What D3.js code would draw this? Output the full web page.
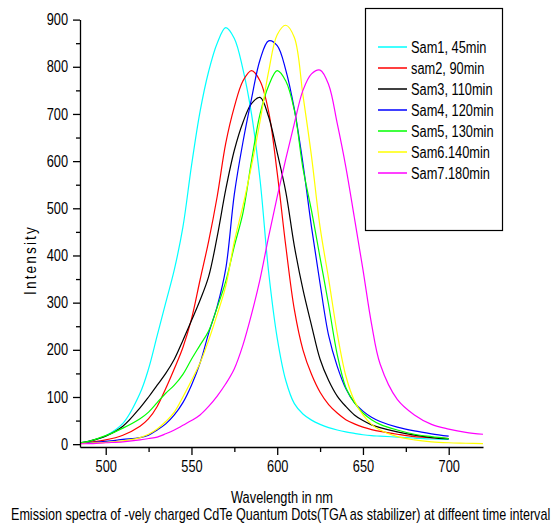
<!DOCTYPE html>
<html>
<head>
<meta charset="utf-8">
<script src="https://cdn.jsdelivr.net/npm/d3@7"></script>
<style>
  body { margin: 0; background: #fff; }
  svg { display: block; }
  text { font-family: "Liberation Sans", Arial, sans-serif; fill: #000; }
</style>
</head>
<body>
<svg width="560" height="525"></svg>
<script>
// wavelengths (nm) shared by all spectra
const wavelength = [485, 490, 500, 510, 520, 525, 530, 535, 540, 545, 550, 555, 560, 565, 570, 575, 580, 585, 590, 595,
  600, 605, 610, 615, 620, 625, 630, 635, 640, 645, 650, 655, 660, 670, 680, 690, 700, 710, 720]

const sam1 = [3, 6, 18, 44, 108, 160, 230, 300, 370, 460, 590, 705, 790, 850, 883, 860, 795, 700, 560, 365,
  225, 135, 86, 64, 51, 42, 35, 30, 26, 23, 20, 18, 17, 15, 13, 11, 10, null, null]
const sam2 = [2, 4, 9, 19, 38, 54, 80, 118, 160, 205, 265, 348, 430, 525, 638, 715, 770, 792, 770, 705,
  575, 420, 285, 200, 148, 110, 84, 66, 52, 43, 36, 31, 27, 21, 16, 14, 12, null, null]
const sam3 = [3, 6, 17, 38, 77, 100, 125, 150, 180, 220, 262, 305, 355, 440, 540, 623, 682, 722, 735, 694,
  618, 535, 420, 328, 252, 180, 135, 102, 80, 62, 50, 41, 35, 26, 19, 14, 11, null, null]
const sam4 = [2, 3, 6, 10, 14, 19, 30, 43, 62, 88, 125, 172, 235, 292, 372, 530, 640, 732, 815, 855,
  845, 793, 710, 595, 460, 340, 230, 165, 118, 88, 70, 57, 48, 36, 28, 22, 17, null, null]
const sam5 = [3, 6, 18, 34, 54, 68, 88, 108, 125, 148, 180, 210, 240, 290, 345, 420, 490, 600, 700, 760,
  792, 770, 708, 585, 495, 395, 295, 190, 120, 88, 66, 52, 42, 30, 21, 16, 12, null, null]
const sam6 = [1, 2, 4, 7, 14, 21, 32, 48, 68, 100, 135, 172, 220, 275, 335, 430, 505, 590, 685, 790,
  868, 888, 862, 740, 610, 460, 350, 235, 145, 92, 62, 42, 30, 16, 9, 5, 3, 2, 1]
const sam7 = [1, 1, 3, 5, 9, 12, 15, 22, 30, 40, 50, 62, 80, 102, 128, 160, 210, 275, 350, 440,
  525, 605, 680, 750, 785, 793, 762, 680, 588, 480, 370, 255, 170, 95, 62, 42, 32, 25, 21]

const seriesNames = ['Sam1, 45min', 'sam2, 90min', 'Sam3, 110min', 'Sam4, 120min', 'Sam5, 130min', 'Sam6.140min', 'Sam7.180min']
const seriesValues = [sam1, sam2, sam3, sam4, sam5, sam6, sam7]
const seriesColors = ['#00ffff', '#ff0000', '#000000', '#0000ff', '#00ff00', '#ffff00', '#ff00ff']

const yMajorTicks = d3.range(0, 901, 100)
const yMinorTicks = d3.range(50, 900, 100)
const xMajorTicks = [500, 550, 600, 650, 700]
const xMinorTicks = [525, 575, 625, 675]

const svg = d3.select('svg')

const x = d3.scaleLinear().domain([485, 720]).range([80, 483])
const y = d3.scaleLinear().domain([-6, 900]).range([447, 19.6])

// the original lettering is narrow, squeeze text horizontally
function squeeze(sel, k) {
  sel.each(function() {
    let w = this.getComputedTextLength()
    d3.select(this).attr('textLength', w * k).attr('lengthAdjust', 'spacingAndGlyphs')
  })
}

// curves
const line = d3.line()
  .defined(function(d) { return d[1] != null })
  .x(function(d) { return x(d[0]) })
  .y(function(d) { return y(d[1]) })
  .curve(d3.curveCatmullRom.alpha(0.5))

seriesValues.forEach(function(vals, i) {
  const pts = wavelength.map(function(w, j) { return [w, vals[j]] })
  svg.append('path')
    .attr('d', line(pts))
    .attr('fill', 'none')
    .attr('stroke', seriesColors[i])
    .attr('stroke-width', 1.2)
})

// axes
svg.append('g').attr('transform', 'translate(80,0)')
  .call(d3.axisLeft(y).tickValues(yMajorTicks).tickSize(7).tickSizeOuter(0).tickPadding(5))
const yMinor = svg.append('g').attr('transform', 'translate(80,0)')
  .call(d3.axisLeft(y).tickValues(yMinorTicks).tickSize(4).tickFormat(''))
yMinor.select('.domain').remove()

svg.append('g').attr('transform', 'translate(0,447)')
  .call(d3.axisBottom(x).tickValues(xMajorTicks).tickSize(8).tickSizeOuter(0).tickPadding(6))
const xMinor = svg.append('g').attr('transform', 'translate(0,447)')
  .call(d3.axisBottom(x).tickValues(xMinorTicks).tickSize(5).tickFormat(''))
xMinor.select('.domain').remove()

svg.selectAll('.tick line, .domain').attr('stroke', '#000').attr('stroke-width', 1.3)
svg.selectAll('.tick text').attr('font-size', 16).attr('font-family', null)
squeeze(svg.selectAll('.tick text'), 0.8)

// axis titles
const yTitle = svg.append('text')
  .attr('transform', 'translate(36,260) rotate(-90)')
  .attr('text-anchor', 'middle')
  .attr('font-size', 16)
  .attr('letter-spacing', 2.5)
  .text('Intensity')
squeeze(yTitle, 0.85)

const xTitle = svg.append('text')
  .attr('x', 282).attr('y', 503)
  .attr('text-anchor', 'middle')
  .attr('font-size', 16)
  .text('Wavelength in nm')
squeeze(xTitle, 0.8)

// caption, scaled to the width it has in the original
const caption = svg.append('text')
  .attr('font-size', 16)
  .text('Emission spectra of -vely charged CdTe Quantum Dots(TGA as stabilizer) at diffeent time interval')
const capW = caption.node().getComputedTextLength()
caption.attr('transform', 'translate(11,520) scale(' + (540 / capW) + ',1)')

// legend
const legend = svg.append('g')
legend.append('rect')
  .attr('x', 365.5).attr('y', 8.5)
  .attr('width', 137).attr('height', 222)
  .attr('fill', '#fff')
  .attr('stroke', '#000')
  .attr('stroke-width', 1.2)

const item = legend.selectAll('.item')
  .data(seriesNames)
  .enter()
  .append('g')
    .attr('class', 'item')
    .attr('transform', function(d, i) { return 'translate(0,' + (47 + i * 21) + ')' })

item.append('line')
  .attr('x1', 378).attr('x2', 407)
  .attr('stroke', function(d, i) { return seriesColors[i] })
  .attr('stroke-width', 1.5)

const labels = item.append('text')
  .attr('x', 411)
  .attr('dy', '0.36em')
  .attr('font-size', 16)
  .text(function(d) { return d })
squeeze(labels, 0.8)
</script>
</body>
</html>
